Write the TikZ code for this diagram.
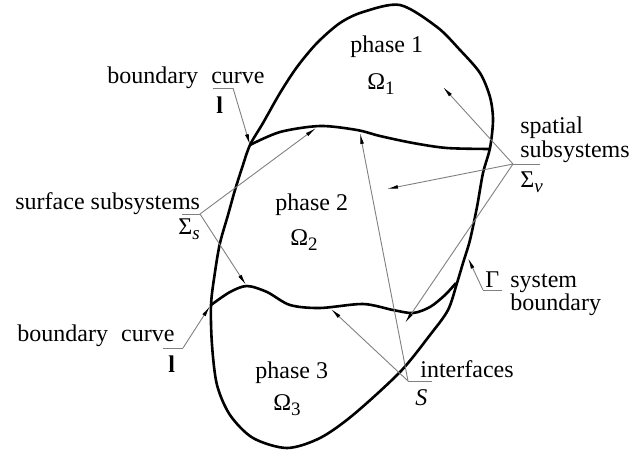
\documentclass[tikz,border=0pt]{standalone}
\usepackage{fontspec}
\setmainfont{Liberation Serif}
\usetikzlibrary{arrows.meta}
\tikzset{>={Latex[length=5.5pt,width=1.9pt,color=black]}}
\colorlet{leadcol}{black!50}
\newcommand{\lowidx}[1]{\raisebox{-2.8pt}{\fontsize{9.5}{10}\selectfont #1}}
\tikzset{
  lbl/.style={inner sep=0pt, anchor=base west, font=\fontsize{12}{14}\selectfont},
  leader/.style={draw=leadcol, line width=0.45pt},
  bnd/.style={line width=1.3pt, line join=round},
}

\begin{document}
\begin{tikzpicture}[x=0.5pt, y=-0.5pt]
    \useasboundingbox (0,0) rectangle (642,450);

    % system boundary and the two interfaces
    \draw[bnd] plot[smooth cycle, tension=0.5] coordinates {
        (250,145) (263,123) (280,93) (297,67) (317,43) (340,23) (363,12)
        (400,5) (437,27) (460,50) (480,73) (490,97) (493,120) (490,148)
        (483,173) (477,207) (470,240) (463,263) (457,283) (448,310)
        (430,335) (400,372) (353,415) (320,438) (287,448) (253,438)
        (230,415) (217,385) (212,345) (211,305) (215,272) (220,243)
        (228,215) (235,190) (242,168)};
    \draw[bnd] plot[smooth, tension=0.5] coordinates {
        (250,145) (280,132) (320,126) (357,130) (380,136) (413,143) (447,148) (490,149)};
    \draw[bnd] plot[smooth, tension=0.5] coordinates {
        (211,305) (230,292) (247,286) (267,292) (290,305) (320,308) (363,304)
        (393,310) (413,313) (430,307) (445,295) (456,283)};

    % phases
    \node[lbl] (ph1) at (350,52) {phase 1};
    \node[lbl] (om1) at (367,89) {Ω\lowidx{1}};
    \node[lbl] (ph2) at (275,210) {phase 2};
    \node[lbl] (om2) at (290,245) {Ω\lowidx{2}};
    \node[lbl] (ph3) at (255,378) {phase 3};
    \node[lbl] (om3) at (273,410) {Ω\lowidx{3}};

    % boundary curve, top
    \node[lbl] (bcA) at (107,83) {boundary\hspace{0.55em}curve};
    \node[lbl] (lA) at (216,113) {\textbf{l}};
    \coordinate (ulA) at (213,88);
    \coordinate (apA) at (233,88);
    \coordinate (tipA) at (250,145);
    \draw[leader] (ulA) -- (apA);
    \draw[leader,->] (apA) -- (tipA);

    % boundary curve, bottom
    \node[lbl] (bcB) at (17,341) {boundary\hspace{0.55em}curve};
    \node[lbl] (lB) at (168,372) {\textbf{l}};
    \coordinate (ulB) at (163,348);
    \coordinate (apB) at (183,348);
    \coordinate (tipB) at (210,306);
    \draw[leader] (ulB) -- (apB);
    \draw[leader,->] (apB) -- (tipB);

    % surface subsystems
    \node[lbl] (sfc) at (15,209) {surface subsystems};
    \node[lbl] (sgs) at (178,234) {Σ\lowidx{\itshape s}};
    \coordinate (ulS) at (182,214);
    \coordinate (apS) at (200,214);
    \coordinate (tipS1) at (316,128);
    \coordinate (tipS2) at (246,285);
    \draw[leader] (ulS) -- (apS);
    \draw[leader,->] (apS) -- (tipS1);
    \draw[leader,->] (apS) -- (tipS2);

    % spatial subsystems
    \node[lbl] (spa) at (520,133) {spatial};
    \node[lbl] (sub) at (520,157) {subsystems};
    \node[lbl] (sgv) at (520,187) {Σ\lowidx{\itshape v}};
    \coordinate (apV) at (513,164);
    \coordinate (ulV) at (540,164);
    \coordinate (tipV1) at (443,87);
    \coordinate (tipV2) at (387,189);
    \coordinate (tipV3) at (405,323);
    \draw[leader] (apV) -- (ulV);
    \draw[leader,->] (apV) -- (tipV1);
    \draw[leader,->] (apV) -- (tipV2);
    \draw[leader,->] (apV) -- (tipV3);

    % system boundary
    \node[lbl] (gam) at (485,287) {Γ};
    \node[lbl] (sys) at (510,287) {system};
    \node[lbl] (bnd) at (510,310) {boundary};
    \coordinate (apG) at (483,290);
    \coordinate (ulG) at (502,290);
    \coordinate (tipG) at (468,258);
    \draw[leader] (apG) -- (ulG);
    \draw[leader,->] (apG) -- (tipG);

    % interfaces
    \node[lbl] (itf) at (420,377) {interfaces};
    \node[lbl] (ssS) at (415,405) {\itshape S};
    \coordinate (apI) at (408,381);
    \coordinate (ulI) at (432,381);
    \coordinate (tipI1) at (360,133);
    \coordinate (tipI2) at (331,309);
    \draw[leader] (apI) -- (ulI);
    \draw[leader,->] (apI) -- (tipI1);
    \draw[leader,->] (apI) -- (tipI2);
\end{tikzpicture}
\end{document}
